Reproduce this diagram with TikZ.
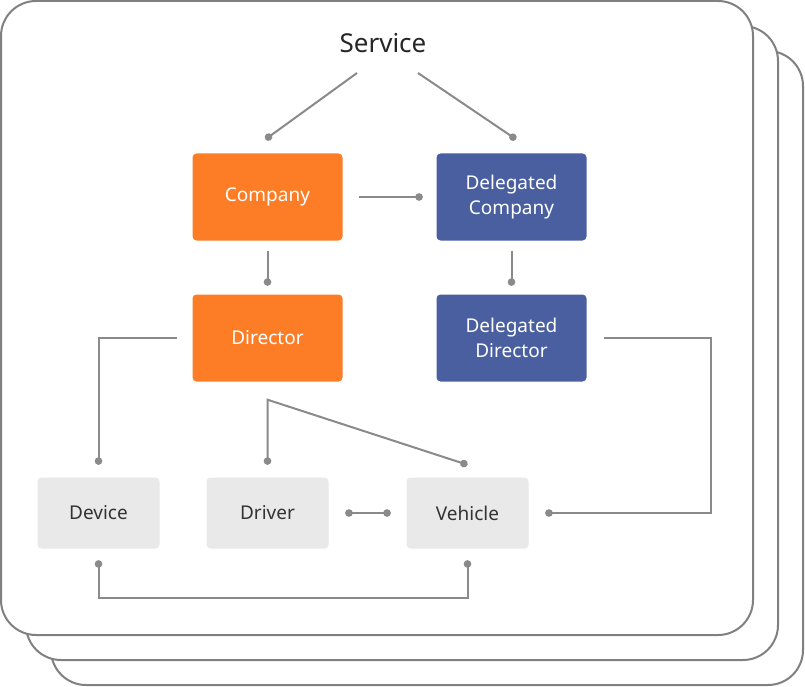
\documentclass[tikz,border=0pt]{standalone}
\usepackage{fontspec}
\setmainfont{Noto Sans}
\usetikzlibrary{arrows.meta}
\definecolor{corange}{RGB}{253,125,39}
\definecolor{cblue}{RGB}{74,95,160}
\definecolor{cgray}{RGB}{233,233,233}
\definecolor{cline}{RGB}{138,138,138}
\definecolor{cframe}{RGB}{128,128,128}
\tikzset{basic/.style={rounded corners=4pt,text centered,align=center,
                       font=\fontsize{19}{25}\selectfont}}
\tikzset{owner/.style={basic,fill=corange,text=white,
                       minimum width=150pt,minimum height=87pt}}
\tikzset{deleg/.style={basic,fill=cblue,text=white,
                       minimum width=150pt,minimum height=87pt}}
\tikzset{thing/.style={basic,fill=cgray,text=black!80,
                       minimum width=122pt,minimum height=71pt}}
\tikzset{frame/.style={draw=cframe,line width=2pt,fill=white,rounded corners=35pt}}
\tikzset{link/.style={draw=cline,line width=2pt}}
\tikzset{enddot/.style={link,-{Circle[length=7.5pt]}}}
\tikzset{bothdots/.style={link,{Circle[length=7.5pt]}-{Circle[length=7.5pt]}}}

\begin{document}
\begin{tikzpicture}[x=1pt,y=-1pt]
    \useasboundingbox (0,0) rectangle (805,687);
    \foreach \s in {51,26,1}{%
          \draw[frame] (\s,\s) rectangle ++(752,634);
        }
    \node[font=\fontsize{26}{30}\selectfont,text=black!85] (service) at (383,43) {Service};
    \node[owner] (company) at (267.5,197) {Company};
    \node[deleg] (delco) at (511.5,197) {Delegated\\Company};
    \node[owner] (director) at (267.5,338) {Director};
    \node[deleg] (deldir) at (511.5,338) {Delegated\\Director};
    \node[thing] (device) at (98.5,513) {Device};
    \node[thing] (driver) at (267.5,513) {Driver};
    \node[thing] (vehicle) at (467.5,513) {Vehicle};

    \draw[enddot] ([shift={(-26,30)}]service.center) -- ([shift={(-2,-14)}]company.north);
    \draw[enddot] ([shift={(35,30)}]service.center) -- ([shift={(4.5,-14)}]delco.north);
    \draw[enddot] ([shift={(16,0)}]company.east) -- ([shift={(-13.5,0)}]delco.west);
    \draw[enddot] ([shift={(0,10)}]company.south) -- ([shift={(0,-8.5)}]director.north);
    \draw[enddot] ([shift={(0,10)}]delco.south) -- ([shift={(0,-8.5)}]deldir.north);
    \draw[enddot] ([shift={(-15,0)}]director.west) -| ([shift={(0,-12.5)}]device.north);
    \draw[bothdots] ([shift={(0,-12.5)}]driver.north) -- ([shift={(0,18)}]director.south)
          -- ([shift={(0,-12.5)}]vehicle.north);
    \draw[bothdots] ([shift={(16.5,0)}]driver.east) -- ([shift={(-15.5,0)}]vehicle.west);
    \draw[enddot] ([shift={(17,0)}]deldir.east) -- ++(107,0) |- ([shift={(16.5,0)}]vehicle.east);
    \draw[bothdots] ([shift={(0,11.5)}]device.south) -- ++(0,37.5)
          -| ([shift={(0,11.5)}]vehicle.south);
\end{tikzpicture}
\end{document}
